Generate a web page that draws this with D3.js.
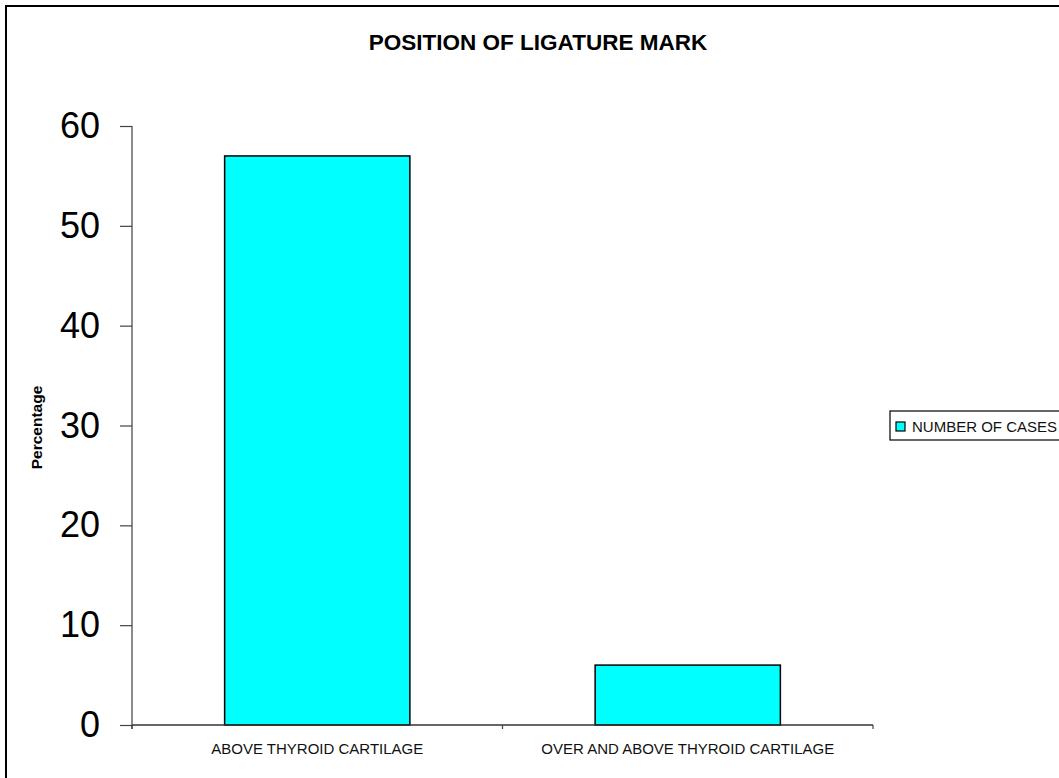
<!DOCTYPE html>
<html>
<head>
<meta charset="utf-8">
<script src="https://cdn.jsdelivr.net/npm/d3@7"></script>
<style>
  html, body { margin: 0; padding: 0; background: #fff; overflow: hidden; }
  svg { display: block; font-family: "Liberation Sans", Arial, sans-serif; }
</style>
</head>
<body>
<svg id="chart" width="1059" height="778"></svg>
<script>
// Chart data
const categories = ["ABOVE THYROID CARTILAGE", "OVER AND ABOVE THYROID CARTILAGE"];
const seriesName = "NUMBER OF CASES";
const values = [57, 6];
const yTicks = [0, 10, 20, 30, 40, 50, 60];
const chartTitle = "POSITION OF LIGATURE MARK";
const yTitle = "Percentage";

const svg = d3.select("#chart");

// Outer frame (runs past the right and bottom edges)
svg.append("rect")
  .attr("x", 6).attr("y", 6)
  .attr("width", 1120).attr("height", 820)
  .attr("fill", "none").attr("stroke", "#000").attr("stroke-width", 2);

const plot = { left: 132, right: 873, top: 126, bottom: 725 };

const x = d3.scaleBand()
  .domain(categories)
  .range([plot.left, plot.right])
  .paddingInner(0.5)
  .paddingOuter(0.25);

const y = d3.scaleLinear()
  .domain([0, 60])
  .range([plot.bottom, plot.top]);

// Bars
svg.append("g").selectAll("rect")
  .data(values)
  .join("rect")
  .attr("x", (d, i) => x(categories[i]))
  .attr("y", d => y(d))
  .attr("width", x.bandwidth())
  .attr("height", d => y(0) - y(d))
  .attr("fill", "#00FFFF")
  .attr("stroke", "#000")
  .attr("stroke-width", 1.5);

// Y axis
const yAxis = svg.append("g")
  .attr("transform", `translate(${plot.left},0)`)
  .call(d3.axisLeft(y).tickValues(yTicks).tickSize(12).tickPadding(20).tickSizeOuter(0));
yAxis.select(".domain").attr("stroke", "#666").attr("stroke-width", 1.5)
  .attr("d", `M0,${plot.top}V${plot.bottom + 4}`);
yAxis.selectAll(".tick line").attr("stroke", "#444").attr("stroke-width", 1.2);
yAxis.selectAll(".tick text")
  .attr("fill", "#000")
  .style("font-size", "36px")
  .style("font-family", "'Liberation Sans', Arial, sans-serif");

// X axis: ticks sit on the category boundaries
const bounds = [plot.left, plot.left + x.step(), plot.right];
const xAxis = svg.append("g");
xAxis.append("line")
  .attr("x1", plot.left).attr("x2", plot.right)
  .attr("y1", plot.bottom).attr("y2", plot.bottom)
  .attr("stroke", "#333").attr("stroke-width", 1.5);
xAxis.selectAll("line.xt")
  .data(bounds)
  .join("line")
  .attr("class", "xt")
  .attr("x1", d => d).attr("x2", d => d)
  .attr("y1", plot.bottom).attr("y2", plot.bottom + 4)
  .attr("stroke", "#444").attr("stroke-width", 1.2);
xAxis.selectAll("text")
  .data(categories)
  .join("text")
  .attr("x", d => x(d) + x.bandwidth() / 2)
  .attr("y", plot.bottom + 29)
  .attr("text-anchor", "middle")
  .style("font-size", "15px")
  .attr("fill", "#111")
  .text(d => d);

// Title
svg.append("text")
  .attr("x", 538)
  .attr("y", 50)
  .attr("text-anchor", "middle")
  .style("font-size", "22.5px")
  .style("font-weight", "bold")
  .text(chartTitle);

// Y-axis title
svg.append("text")
  .attr("transform", `translate(42,${(plot.top + plot.bottom) / 2 + 2}) rotate(-90)`)
  .attr("text-anchor", "middle")
  .style("font-size", "15.5px")
  .style("font-weight", "bold")
  .text(yTitle);

// Legend (box runs past the right edge)
const legend = svg.append("g");
legend.append("rect")
  .attr("x", 890).attr("y", 411)
  .attr("width", 200).attr("height", 29)
  .attr("fill", "#fff").attr("stroke", "#000").attr("stroke-width", 1.2);
legend.append("rect")
  .attr("x", 896).attr("y", 422)
  .attr("width", 9).attr("height", 9)
  .attr("fill", "#00FFFF").attr("stroke", "#000").attr("stroke-width", 1.2);
legend.append("text")
  .attr("x", 912).attr("y", 432)
  .style("font-size", "15px")
  .attr("fill", "#111")
  .text(seriesName);
</script>
</body>
</html>
